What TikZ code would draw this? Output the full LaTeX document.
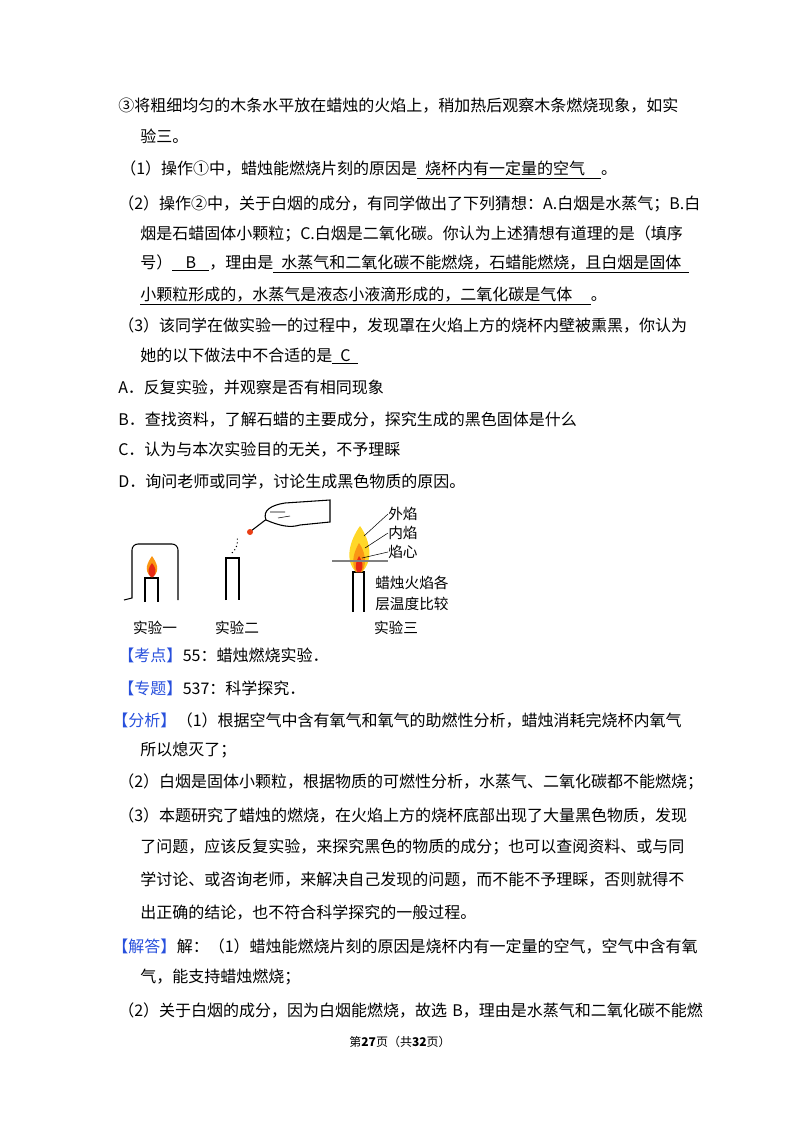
\documentclass[tikz,border=0pt]{standalone}
\usepackage{fontspec}
\setmainfont{Noto Sans CJK SC}
\usetikzlibrary{positioning}
\definecolor{tagblue}{RGB}{40,80,220}
\definecolor{flameorange}{RGB}{250,150,20}
\definecolor{flamered}{RGB}{230,40,20}
\definecolor{flameyellow}{RGB}{255,215,40}
\tikzset{
  txt/.style={anchor=west, inner sep=0pt, font=\fontsize{12pt}{14pt}\selectfont},
  tag/.style={txt, text=tagblue},
  figlabel/.style={inner sep=0pt, font=\fontsize{11pt}{13pt}\selectfont},
  candle/.style={draw, thick, fill=white},
}
\newcommand{\ans}[1]{\underline{\hspace{6pt}#1\hspace{6pt}}}
\begin{document}
\begin{tikzpicture}[x=0.75pt, y=-0.75pt]
\useasboundingbox (0,0) rectangle (800,1132);
% question text
\node[txt] (l1) at (118,106) {③将粗细均匀的木条水平放在蜡烛的火焰上，稍加热后观察木条燃烧现象，如实};
\node[txt] (l2) at (140,136) {验三。};
\node[txt] (l3) at (120,170) {（1）操作①中，蜡烛能燃烧片刻的原因是\ans{烧杯内有一定量的空气\hspace{6pt}}。};
\node[txt] (l4) at (118,204) {（2）操作②中，关于白烟的成分，有同学做出了下列猜想：A.白烟是水蒸气；B.白};
\node[txt] (l5) at (140,234) {烟是石蜡固体小颗粒；C.白烟是二氧化碳。你认为上述猜想有道理的是（填序};
\node[txt] (l6) at (140,264) {号）\ans{\hspace{4pt}B\hspace{4pt}}，理由是\ans{水蒸气和二氧化碳不能燃烧，石蜡能燃烧，且白烟是固体}};
\node[txt] (l7) at (140,296) {\underline{小颗粒形成的，水蒸气是液态小液滴形成的，二氧化碳是气体\hspace{14pt}}。};
\node[txt] (l8) at (118,326) {（3）该同学在做实验一的过程中，发现罩在火焰上方的烧杯内壁被熏黑，你认为};
\node[txt] (l9) at (140,356) {她的以下做法中不合适的是\ans{C}};
\node[txt] (l10) at (118,388) {A．反复实验，并观察是否有相同现象};
\node[txt] (l11) at (118,420) {B．查找资料，了解石蜡的主要成分，探究生成的黑色固体是什么};
\node[txt] (l12) at (118,450) {C．认为与本次实验目的无关，不予理睬};
\node[txt] (l13) at (118,482) {D．询问老师或同学，讨论生成黑色物质的原因。};
% experiment one
\draw[thick] (124,600) -- (132,598) -- (132,550) to[out=90,in=180] (138,544) -- (172,544) to[out=0,in=90] (178,550) -- (178,600);
\draw[candle] (145,602) -- (145,578) -- (158,578) -- (158,602);
\fill[flameorange] (151,577) .. controls (143,570) and (148,562) .. (152,556) .. controls (156,562) and (161,570) .. (153,577) -- cycle;
\fill[flamered] (151,577) .. controls (146,572) and (149,567) .. (152,563) .. controls (155,567) and (158,572) .. (153,577) -- cycle;
% experiment two
\draw[candle] (226,600) -- (226,558) -- (239,558) -- (239,600);
\draw[thick, dotted] (232,553) to[bend right] (237,536);
\draw[thick] (251,531) -- (268,518);
\fill[flamered!80!flameorange] (250,532) circle (3);
\draw[thick, fill=white] (266,520) .. controls (262,510) and (272,505) .. (285,503) -- (330,500) -- (330,522) -- (300,525) .. controls (290,528) and (280,526) .. (266,520) -- cycle;
\draw (270,512) -- (285,512) (278,518) -- (290,516);
% experiment three
\draw[candle] (353,612) -- (353,572) -- (364,572) -- (364,612);
\fill[flameyellow] (356,572) .. controls (344,560) and (350,540) .. (360,526) .. controls (370,540) and (374,560) .. (362,572) -- cycle;
\fill[flameorange] (356,572) .. controls (350,562) and (355,550) .. (359,543) .. controls (364,550) and (368,562) .. (362,572) -- cycle;
\fill[flamered] (357,572) .. controls (354,566) and (357,560) .. (359,556) .. controls (362,560) and (364,566) .. (361,572) -- cycle;
\draw[gray, line width=1.5pt] (332,561) -- (388,561);
\node[figlabel, anchor=west] (outer) at (388,514) {外焰};
\node[figlabel, anchor=west] (inner) at (388,533) {内焰};
\node[figlabel, anchor=west] (core) at (388,552) {焰心};
\draw (364,536) -- (outer.west);
\draw (365,548) -- (inner.west);
\draw (362,558) -- (core.west);
\node[figlabel, anchor=west] (cmp1) at (375,583) {蜡烛火焰各};
\node[figlabel, anchor=west] (cmp2) at (375,604) {层温度比较};
\node[figlabel] (c1) at (155,628) {实验一};
\node[figlabel] (c2) at (237,628) {实验二};
\node[figlabel] (c3) at (396,628) {实验三};
% analysis
\node[tag] (t1) at (118,655) {【考点】};
\node[txt, right=0pt of t1] (k1) {55：蜡烛燃烧实验．};
\node[tag] (t2) at (118,688) {【专题】};
\node[txt, right=0pt of t2] (k2) {537：科学探究．};
\node[tag] (t3) at (112,720) {【分析】};
\node[txt, right=0pt of t3] (k3) {（1）根据空气中含有氧气和氧气的助燃性分析，蜡烛消耗完烧杯内氧气};
\node[txt] (k4) at (140,750) {所以熄灭了；};
\node[txt] (k5) at (118,782) {（2）白烟是固体小颗粒，根据物质的可燃性分析，水蒸气、二氧化碳都不能燃烧；};
\node[txt] (k6) at (118,815) {（3）本题研究了蜡烛的燃烧，在火焰上方的烧杯底部出现了大量黑色物质，发现};
\node[txt] (k7) at (140,847) {了问题，应该反复实验，来探究黑色的物质的成分；也可以查阅资料、或与同};
\node[txt] (k8) at (140,880) {学讨论、或咨询老师，来解决自己发现的问题，而不能不予理睬，否则就得不};
\node[txt] (k9) at (140,913) {出正确的结论，也不符合科学探究的一般过程。};
\node[tag] (t4) at (112,946) {【解答】};
\node[txt, right=0pt of t4] (k10) {解：（1）蜡烛能燃烧片刻的原因是烧杯内有一定量的空气，空气中含有氧};
\node[txt] (k11) at (140,977) {气，能支持蜡烛燃烧；};
\node[txt] (k12) at (118,1010) {（2）关于白烟的成分，因为白烟能燃烧，故选\hspace{4pt}B，理由是水蒸气和二氧化碳不能燃};
\node[inner sep=0pt, font=\fontsize{9pt}{11pt}\selectfont] (foot) at (400,1042) {第\textbf{27}页（共\textbf{32}页）};
\end{tikzpicture}
\end{document}
